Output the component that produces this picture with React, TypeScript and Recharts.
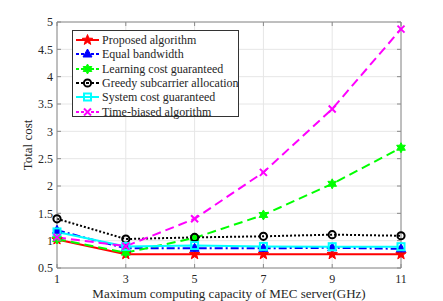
import { LineChart, Line, XAxis, YAxis, CartesianGrid, Legend } from 'recharts';

const capacities = [1, 3, 5, 7, 9, 11];
const proposed = [1.02, 0.75, 0.75, 0.75, 0.75, 0.75];
const equalBandwidth = [1.19, 0.86, 0.86, 0.86, 0.87, 0.85];
const learningCost = [1.03, 0.78, 1.05, 1.47, 2.04, 2.7];
const greedy = [1.4, 1.03, 1.06, 1.08, 1.11, 1.09];
const systemCost = [1.16, 0.895, 0.91, 0.895, 0.89, 0.89];
const timeBiased = [1.06, 0.9, 1.4, 2.25, 3.41, 4.87];
const yTicks = [0.5, 1, 1.5, 2, 2.5, 3, 3.5, 4, 4.5, 5];

const data = capacities.map((c, i) => ({
  c,
  proposed: proposed[i],
  equal: equalBandwidth[i],
  learning: learningCost[i],
  greedy: greedy[i],
  system: systemCost[i],
  time: timeBiased[i],
}));

const FONT = '"Liberation Serif", "Times New Roman", serif';
const AXIS = '#8a8a8a';
const TEXT = '#262626';

type Shape = 'star' | 'triangle' | 'hexagram' | 'circle' | 'square' | 'x';

function starPoints(cx: number, cy: number, n: number, ro: number, ri: number) {
  const pts: string[] = [];
  for (let k = 0; k < n * 2; k++) {
    const r = k % 2 === 0 ? ro : ri;
    const a = -Math.PI / 2 + (k * Math.PI) / n;
    pts.push(`${cx + r * Math.cos(a)},${cy + r * Math.sin(a)}`);
  }
  return pts.join(' ');
}

function Marker({ cx, cy, shape, color }: { cx: number; cy: number; shape: Shape; color: string }) {
  if (cx == null || cy == null) return null;
  switch (shape) {
    case 'star':
      return <polygon points={starPoints(cx, cy, 5, 5.5, 2.3)} fill={color} stroke={color} strokeWidth={1} />;
    case 'triangle':
      return <polygon points={`${cx},${cy - 5} ${cx + 4.5},${cy + 3} ${cx - 4.5},${cy + 3}`} fill={color} stroke={color} strokeWidth={1} />;
    case 'hexagram':
      return <polygon points={starPoints(cx, cy, 6, 5, 2.8)} fill={color} stroke={color} strokeWidth={1} />;
    case 'circle':
      return <circle cx={cx} cy={cy} r={3.6} fill="none" stroke={color} strokeWidth={2} />;
    case 'square':
      return <rect x={cx - 3.5} y={cy - 3.5} width={7} height={7} fill="none" stroke={color} strokeWidth={2} />;
    case 'x':
      return (
        <g stroke={color} strokeWidth={2}>
          <line x1={cx - 3.5} y1={cy - 3.5} x2={cx + 3.5} y2={cy + 3.5} />
          <line x1={cx - 3.5} y1={cy + 3.5} x2={cx + 3.5} y2={cy - 3.5} />
        </g>
      );
  }
  return null;
}

const series = [
  { key: 'proposed', name: 'Proposed algorithm', color: '#ff0000', dash: undefined, shape: 'star' as Shape },
  { key: 'equal', name: 'Equal bandwidth', color: '#0000ff', dash: '8 3 2 3', shape: 'triangle' as Shape },
  { key: 'learning', name: 'Learning cost guaranteed', color: '#00ff00', dash: '9 5', shape: 'hexagram' as Shape },
  { key: 'greedy', name: 'Greedy subcarrier allocation', color: '#000000', dash: '2 2', shape: 'circle' as Shape },
  { key: 'system', name: 'System cost guaranteed', color: '#00ffff', dash: undefined, shape: 'square' as Shape },
  { key: 'time', name: 'Time-biased algorithm', color: '#ff00ff', dash: '9 5', shape: 'x' as Shape },
];

const LeftTick = ({ x, y, payload }: any) => (
  <g>
    <line x1={x} x2={x + 4} y1={y} y2={y} stroke={AXIS} />
    <text x={x - 4} y={y} dy="0.35em" textAnchor="end" fontFamily={FONT} fontSize={12} fill={TEXT}>
      {payload.value}
    </text>
  </g>
);
const RightTick = ({ x, y }: any) => <line x1={x} x2={x - 4} y1={y} y2={y} stroke={AXIS} />;
const BottomTick = ({ x, y, payload }: any) => (
  <g>
    <line x1={x} x2={x} y1={y} y2={y - 4} stroke={AXIS} />
    <text x={x} y={y + 11} dy="0.35em" textAnchor="middle" fontFamily={FONT} fontSize={12} fill={TEXT}>
      {payload.value}
    </text>
  </g>
);
const TopTick = ({ x, y }: any) => <line x1={x} x2={x} y1={y} y2={y + 4} stroke={AXIS} />;

const LegendBox = () => (
  <div
    style={{
      width: 167,
      height: 87,
      border: '1px solid #333',
      background: '#fff',
      boxSizing: 'border-box',
      paddingTop: 2,
    }}
  >
    {series.map((s) => (
      <div key={s.key} style={{ display: 'flex', alignItems: 'center', height: 14.3 }}>
        <svg width={26} height={14} style={{ marginLeft: 2, flex: 'none' }}>
          <line x1={1} x2={24} y1={7} y2={7} stroke={s.color} strokeWidth={2} strokeDasharray={s.dash ? '3 2' : undefined} />
          <Marker cx={12.5} cy={7} shape={s.shape} color={s.color} />
        </svg>
        <span style={{ fontFamily: FONT, fontSize: 12, color: TEXT, marginLeft: 1, whiteSpace: 'nowrap', lineHeight: '14px' }}>
          {s.name}
        </span>
      </div>
    ))}
  </div>
);

export default function App() {
  return (
    <div style={{ position: 'absolute', left: 0, top: 0, width: 443, height: 301, background: '#fff' }}>
      <LineChart width={443} height={301} data={data} margin={{ left: 56, right: 41, top: 21, bottom: 32 }}>
        <CartesianGrid stroke="#e6e6e6" strokeWidth={1} />
        <XAxis
          dataKey="c"
          type="number"
          domain={[1, 11]}
          ticks={capacities}
          height={1}
          tickSize={0}
          tickMargin={0}
          stroke={AXIS}
          tick={<BottomTick />}
          interval={0}
        />
        <XAxis
          xAxisId="top"
          orientation="top"
          dataKey="c"
          type="number"
          domain={[1, 11]}
          ticks={capacities}
          height={1}
          tickSize={0}
          tickMargin={0}
          stroke={AXIS}
          tick={<TopTick />}
          interval={0}
        />
        <YAxis
          type="number"
          domain={[0.5, 5]}
          ticks={yTicks}
          width={1}
          tickSize={0}
          tickMargin={0}
          stroke={AXIS}
          tick={<LeftTick />}
          interval={0}
          allowDataOverflow
        />
        <YAxis
          yAxisId="right"
          orientation="right"
          type="number"
          domain={[0.5, 5]}
          ticks={yTicks}
          width={1}
          tickSize={0}
          tickMargin={0}
          stroke={AXIS}
          tick={<RightTick />}
          interval={0}
          allowDataOverflow
        />
        {series.map((s) => (
          <Line
            key={s.key}
            dataKey={s.key}
            name={s.name}
            stroke={s.color}
            strokeWidth={2}
            strokeDasharray={s.dash}
            isAnimationActive={false}
            dot={(p: any) => <Marker key={`${s.key}-${p.index}`} cx={p.cx} cy={p.cy} shape={s.shape} color={s.color} />}
            activeDot={false}
          />
        ))}
        <Legend
          layout="vertical"
          align="center"
          verticalAlign="middle"
          wrapperStyle={{ left: 72, top: 30, width: 'auto' }}
          content={() => <LegendBox />}
        />
      </LineChart>
      <div
        style={{
          position: 'absolute',
          left: 0,
          width: 458,
          top: 287,
          lineHeight: '13px',
          textAlign: 'center',
          fontFamily: FONT,
          fontSize: 13,
          color: TEXT,
          whiteSpace: 'nowrap',
        }}
      >
        Maximum computing capacity of MEC server(GHz)
      </div>
      <div
        style={{
          position: 'absolute',
          left: 28,
          top: 145,
          transform: 'translate(-50%, -50%) rotate(-90deg)',
          fontFamily: FONT,
          fontSize: 13,
          color: TEXT,
          whiteSpace: 'nowrap',
        }}
      >
        Total cost
      </div>
    </div>
  );
}
